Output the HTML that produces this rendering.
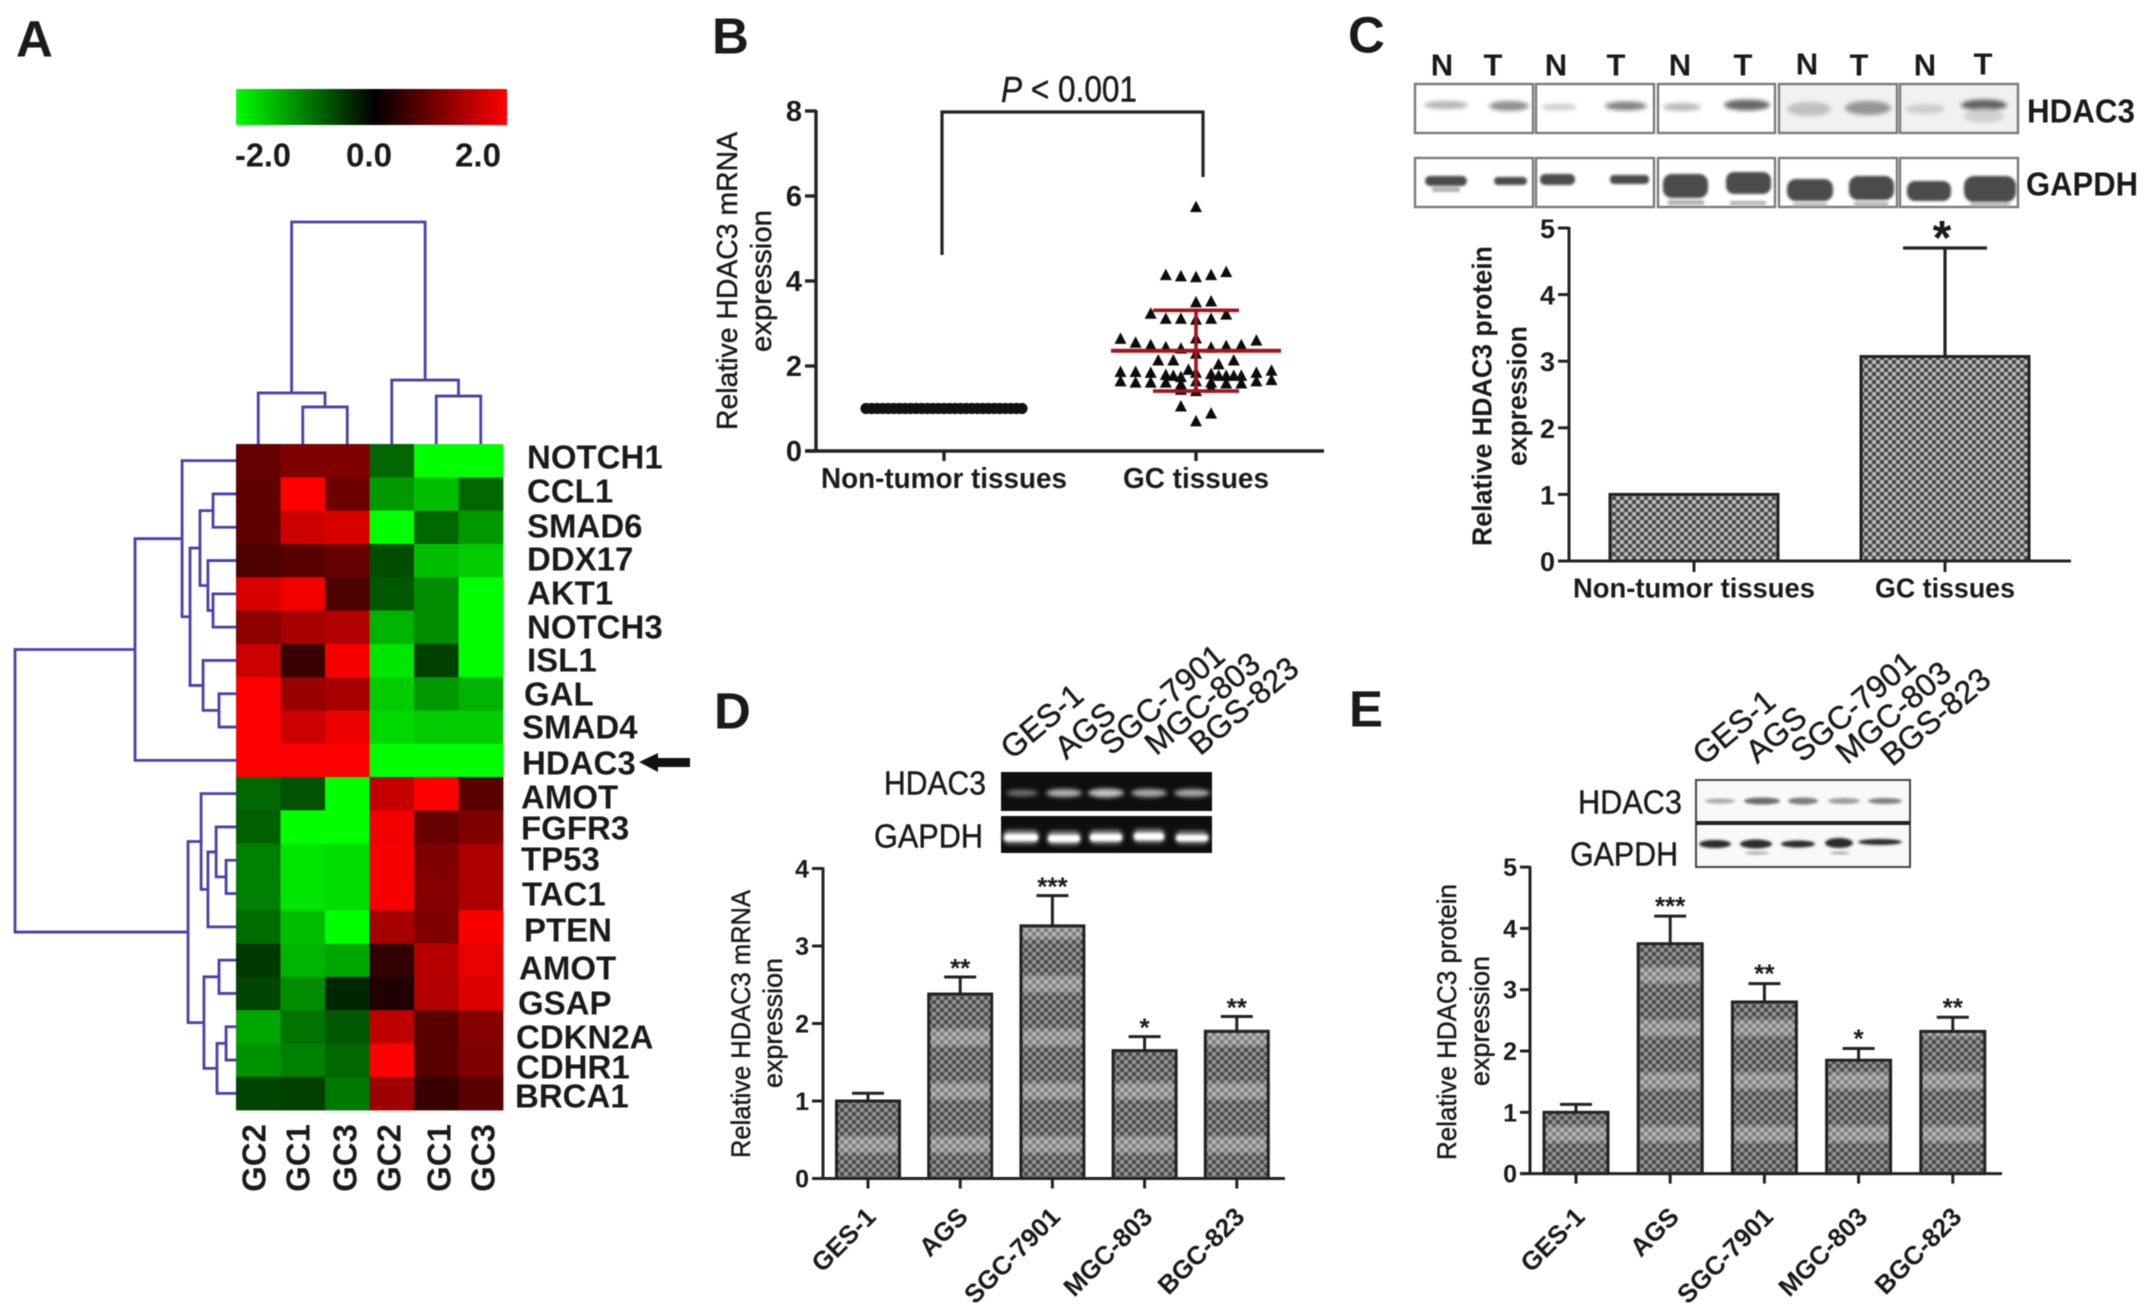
<!DOCTYPE html>
<html lang="en">
<head>
<meta charset="utf-8">
<title>HDAC3 expression in gastric cancer</title>
<style>
html,body{margin:0;padding:0;background:#fff;width:2150px;height:1305px;overflow:hidden}
svg{display:block;filter:blur(.6px)}
text{font-family:"Liberation Sans",sans-serif;fill:#1a1a1a;dominant-baseline:central}
text:not(.b):not([font-weight]){stroke:#1a1a1a;stroke-width:.45px}
.b{font-weight:bold}
.m{text-anchor:middle}
.s{text-anchor:start}
</style>
</head>
<body>
<svg id="figure" xmlns="http://www.w3.org/2000/svg" width="2150" height="1305" viewBox="0 0 2150 1305">
<defs>
  <linearGradient id="cbar" x1="0" x2="1" y1="0" y2="0">
    <stop offset="0" stop-color="#00ff00"/><stop offset=".51" stop-color="#000"/><stop offset="1" stop-color="#ff0000"/>
  </linearGradient>
  <linearGradient id="bandFade" x1="0" x2="0" y1="0" y2="1">
    <stop offset="0" stop-color="#fff" stop-opacity="0"/><stop offset=".25" stop-color="#fff" stop-opacity=".3"/>
    <stop offset=".75" stop-color="#fff" stop-opacity=".3"/><stop offset="1" stop-color="#fff" stop-opacity="0"/>
  </linearGradient>
  <pattern id="dots" patternUnits="userSpaceOnUse" width="8" height="8">
    <rect width="8" height="8" fill="#7b7b7b"/>
    <circle cx="2" cy="2" r="1.6" fill="#cfcfcf"/><circle cx="6" cy="6" r="1.6" fill="#cfcfcf"/>
    <circle cx="6" cy="2" r="1.6" fill="#3c3c3c"/><circle cx="2" cy="6" r="1.6" fill="#3c3c3c"/>
  </pattern>
  <pattern id="dotsDark" patternUnits="userSpaceOnUse" width="8" height="8">
    <rect width="8" height="8" fill="#6e6e6e"/>
    <circle cx="2" cy="2" r="1.5" fill="#a4a4a4"/><circle cx="6" cy="6" r="1.5" fill="#a4a4a4"/>
    <circle cx="6" cy="2" r="1.5" fill="#3e3e3e"/><circle cx="2" cy="6" r="1.5" fill="#3e3e3e"/>
  </pattern>
  <pattern id="bandsD" patternUnits="userSpaceOnUse" x="0" y="1080" width="10" height="53.5">
    <rect width="10" height="22" fill="url(#bandFade)"/>
  </pattern>
  <pattern id="bandsE" patternUnits="userSpaceOnUse" x="0" y="1070" width="10" height="53">
    <rect width="10" height="22" fill="url(#bandFade)"/>
  </pattern>
  <filter id="soft" x="-30%" y="-80%" width="160%" height="260%"><feGaussianBlur stdDeviation="2"/></filter>
  <filter id="soft1" x="-20%" y="-40%" width="140%" height="180%"><feGaussianBlur stdDeviation="1.4"/></filter>
</defs>

<!-- Panel letters -->
<text class="b s" x="16" y="39" font-size="51">A</text>
<text class="b s" x="712" y="36" font-size="51">B</text>
<text class="b s" x="1348" y="35" font-size="51">C</text>
<text class="b s" x="714" y="711" font-size="51">D</text>
<text class="b s" x="1349" y="709" font-size="51">E</text>

<!-- Panel A static -->
<g id="panelA">
  <g>
    <rect x="236" y="89" width="271" height="36" fill="url(#cbar)"/>
    <text class="b s" x="235" y="155" font-size="33" textLength="56" lengthAdjust="spacingAndGlyphs">-2.0</text>
    <text class="b s" x="346" y="155" font-size="33" textLength="46" lengthAdjust="spacingAndGlyphs">0.0</text>
    <text class="b s" x="455" y="155" font-size="33" textLength="46" lengthAdjust="spacingAndGlyphs">2.0</text>
  </g>
  <g id="heatCells"></g>
  <g id="colTree" fill="none" stroke="#4840ae" stroke-width="2.8"></g>
  <g id="rowTree" fill="none" stroke="#4840ae" stroke-width="2.8"></g>
  <g font-size="33">
    <text class="b s" x="527" y="457">NOTCH1</text>
    <text class="b s" x="527" y="491">CCL1</text>
    <text class="b s" x="527" y="526">SMAD6</text>
    <text class="b s" x="527" y="559">DDX17</text>
    <text class="b s" x="527" y="593">AKT1</text>
    <text class="b s" x="527" y="627">NOTCH3</text>
    <text class="b s" x="527" y="660">ISL1</text>
    <text class="b s" x="524" y="694">GAL</text>
    <text class="b s" x="522" y="727">SMAD4</text>
    <text class="b s" x="522" y="763">HDAC3</text>
    <text class="b s" x="521" y="797">AMOT</text>
    <text class="b s" x="521" y="828">FGFR3</text>
    <text class="b s" x="521" y="859">TP53</text>
    <text class="b s" x="522" y="894">TAC1</text>
    <text class="b s" x="524" y="930">PTEN</text>
    <text class="b s" x="519" y="968">AMOT</text>
    <text class="b s" x="518" y="1003">GSAP</text>
    <text class="b s" x="516" y="1037">CDKN2A</text>
    <text class="b s" x="516" y="1067">CDHR1</text>
    <text class="b s" x="515" y="1096">BRCA1</text>
  </g>
  <g>
    <polygon points="639,762 658,753 658,758 690,758 690,767 658,767 658,772" fill="#111"/>
  </g>
  <g font-size="33">
    <text class="b m" transform="translate(254 1158) rotate(-90)">GC2</text>
    <text class="b m" transform="translate(298 1158) rotate(-90)">GC1</text>
    <text class="b m" transform="translate(345 1158) rotate(-90)">GC3</text>
    <text class="b m" transform="translate(389 1158) rotate(-90)">GC2</text>
    <text class="b m" transform="translate(439 1158) rotate(-90)">GC1</text>
    <text class="b m" transform="translate(483 1158) rotate(-90)">GC3</text>
  </g>
</g>

<!-- Panel B static -->
<g id="panelB">
  <text class="m" transform="translate(728 281) rotate(-90)" font-size="29" textLength="298" lengthAdjust="spacingAndGlyphs">Relative HDAC3 mRNA</text>
  <text class="m" transform="translate(762 281) rotate(-90)" font-size="29" textLength="142" lengthAdjust="spacingAndGlyphs">expression</text>
  <path d="M942 255V112H1203V177" fill="none" stroke="#222" stroke-width="3.2"/>
  <text class="s" x="1001" y="89" font-size="36" textLength="136" lengthAdjust="spacingAndGlyphs"><tspan font-style="italic">P</tspan> &lt; 0.001</text>
</g>

<!-- Panel C blots -->
<g id="panelC">
  <g font-size="31" class="b">
    <text class="b m" x="1442" y="65">N</text>
    <text class="b m" x="1493" y="65">T</text>
    <text class="b m" x="1556" y="65">N</text>
    <text class="b m" x="1616" y="65">T</text>
    <text class="b m" x="1680" y="65">N</text>
    <text class="b m" x="1743" y="65">T</text>
    <text class="b m" x="1807" y="64">N</text>
    <text class="b m" x="1859" y="65">T</text>
    <text class="b m" x="1925" y="65">N</text>
    <text class="b m" x="1983" y="64">T</text>
  </g>
  <g>
    <g fill="#fff" stroke="#7a7a7a" stroke-width="2.4">
      <rect x="1415" y="84" width="118" height="49"/>
      <rect x="1536" y="84" width="118" height="49"/>
      <rect x="1658" y="84" width="117" height="49"/>
      <rect x="1779" y="84" width="118" height="49" fill="#f1f1f1"/>
      <rect x="1900" y="84" width="118" height="49" fill="#f1f1f1"/>
    </g>
    <g filter="url(#soft)">
      <ellipse cx="1446" cy="105" rx="22" ry="4" fill="#b4b4b4"/><ellipse cx="1509" cy="106" rx="20" ry="5" fill="#8e8e8e"/>
      <ellipse cx="1559" cy="107" rx="18" ry="3" fill="#c8c8c8"/><ellipse cx="1626" cy="106" rx="21" ry="4.5" fill="#808080"/>
      <ellipse cx="1682" cy="107" rx="19" ry="4" fill="#b8b8b8"/><ellipse cx="1747" cy="105" rx="23" ry="5.5" fill="#666"/>
      <ellipse cx="1809" cy="109" rx="22" ry="7" fill="#c0c0c0"/><ellipse cx="1868" cy="108" rx="23" ry="7" fill="#959595"/>
      <ellipse cx="1925" cy="109" rx="20" ry="5" fill="#cdcdcd"/><ellipse cx="1984" cy="105" rx="23" ry="5.5" fill="#626262"/>
      <ellipse cx="1984" cy="116" rx="20" ry="7" fill="#d2d2d2"/>
    </g>
  </g>
  <g>
    <g fill="#fff" stroke="#7a7a7a" stroke-width="2.4">
      <rect x="1415" y="158" width="118" height="49"/>
      <rect x="1536" y="158" width="118" height="49"/>
      <rect x="1658" y="158" width="117" height="49"/>
      <rect x="1779" y="158" width="118" height="49"/>
      <rect x="1900" y="158" width="118" height="49"/>
    </g>
    <g filter="url(#soft1)" fill="#4c4c4c">
      <rect x="1425" y="176" width="42" height="10" rx="5"/><rect x="1494" y="177" width="33" height="8" rx="4"/>
      <rect x="1540" y="174" width="35" height="11" rx="5"/><rect x="1610" y="175" width="39" height="9" rx="4"/>
      <rect x="1663" y="174" width="45" height="24" rx="9"/><rect x="1726" y="172" width="45" height="22" rx="8"/>
      <rect x="1787" y="179" width="46" height="22" rx="9"/><rect x="1849" y="176" width="45" height="24" rx="9"/>
      <rect x="1907" y="181" width="44" height="20" rx="8"/><rect x="1964" y="176" width="52" height="26" rx="10"/>
      <g fill="#b0b0b0">
        <rect x="1432" y="187" width="28" height="5" rx="2"/>
        <rect x="1668" y="200" width="36" height="5"/><rect x="1730" y="201" width="36" height="4"/>
        <rect x="1793" y="203" width="34" height="3"/><rect x="1854" y="202" width="34" height="4"/>
        <rect x="1970" y="203" width="40" height="3"/>
      </g>
    </g>
  </g>
  <text class="b s" x="2027" y="111" font-size="33" textLength="108" lengthAdjust="spacingAndGlyphs">HDAC3</text>
  <text class="b s" x="2026" y="184" font-size="33" textLength="112" lengthAdjust="spacingAndGlyphs">GAPDH</text>
  <text class="b m" transform="translate(1482 396) rotate(-90)" font-size="28" textLength="300" lengthAdjust="spacingAndGlyphs">Relative HDAC3 protein</text>
  <text class="b m" transform="translate(1517 396) rotate(-90)" font-size="28" textLength="140" lengthAdjust="spacingAndGlyphs">expression</text>
</g>

<!-- Panel D static -->
<g id="panelD">
  <g font-size="32">
    <text class="s" transform="translate(1005 752) rotate(-40)">GES-1</text>
    <text class="s" transform="translate(1059 752) rotate(-40)">AGS</text>
    <text class="s" transform="translate(1104 748) rotate(-40)">SGC-7901</text>
    <text class="s" transform="translate(1149 748) rotate(-40)">MGC-803</text>
    <text class="s" transform="translate(1193 748) rotate(-40)">BGS-823</text>
  </g>
  <text class="s" x="884" y="783" font-size="33" textLength="102" lengthAdjust="spacingAndGlyphs">HDAC3</text>
  <text class="s" x="874" y="836" font-size="33" textLength="109" lengthAdjust="spacingAndGlyphs">GAPDH</text>
  <rect x="1001" y="772" width="211" height="39" fill="#0e0e0e"/>
  <rect x="1001" y="816" width="211" height="37" fill="#0e0e0e"/>
  <g filter="url(#soft)">
    <ellipse cx="1022" cy="793" rx="16" ry="3.5" fill="#6e6e6e"/><ellipse cx="1064" cy="793" rx="18" ry="4" fill="#b4b4b4"/>
    <ellipse cx="1106" cy="793" rx="18" ry="4.5" fill="#c4c4c4"/><ellipse cx="1149" cy="793" rx="18" ry="4" fill="#ababab"/>
    <ellipse cx="1192" cy="793" rx="18" ry="4" fill="#a8a8a8"/>
  </g>
  <g filter="url(#soft)" fill="#8c8c8c">
    <rect x="1003" y="830" width="36" height="14" rx="6"/><rect x="1047" y="831" width="34" height="14" rx="6"/>
    <rect x="1089" y="830" width="34" height="14" rx="6"/><rect x="1133" y="829" width="32" height="14" rx="6"/>
    <rect x="1175" y="831" width="34" height="13" rx="6"/>
  </g>
  <g filter="url(#soft1)" fill="#fff">
    <rect x="1004" y="834" width="34" height="7" rx="3.5"/><rect x="1048" y="835" width="32" height="7" rx="3.5"/>
    <rect x="1090" y="834" width="32" height="7" rx="3.5"/><rect x="1134" y="833" width="30" height="7" rx="3.5"/>
    <rect x="1176" y="835" width="32" height="6" rx="3"/>
  </g>
  <text class="m" transform="translate(741 1024) rotate(-90)" font-size="27" textLength="268" lengthAdjust="spacingAndGlyphs">Relative HDAC3 mRNA</text>
  <text class="m" transform="translate(773 1023) rotate(-90)" font-size="27" textLength="130" lengthAdjust="spacingAndGlyphs">expression</text>
</g>

<!-- Panel E static -->
<g id="panelE">
  <g font-size="32">
    <text class="s" transform="translate(1697 758) rotate(-40)">GES-1</text>
    <text class="s" transform="translate(1750 756) rotate(-40)">AGS</text>
    <text class="s" transform="translate(1795 755) rotate(-40)">SGC-7901</text>
    <text class="s" transform="translate(1840 757) rotate(-40)">MGC-803</text>
    <text class="s" transform="translate(1885 759) rotate(-40)">BGS-823</text>
  </g>
  <text class="s" x="1578" y="802" font-size="33" textLength="104" lengthAdjust="spacingAndGlyphs">HDAC3</text>
  <text class="s" x="1570" y="854" font-size="33" textLength="108" lengthAdjust="spacingAndGlyphs">GAPDH</text>
  <rect x="1696" y="780" width="214" height="87" fill="#f9f9f9" stroke="#444" stroke-width="2"/>
  <line x1="1696" x2="1910" y1="823" y2="823" stroke="#222" stroke-width="4"/>
  <g filter="url(#soft1)">
    <ellipse cx="1720" cy="801" rx="15" ry="2.6" fill="#aaa"/><ellipse cx="1762" cy="801" rx="18" ry="3.5" fill="#6c6c6c"/>
    <ellipse cx="1803" cy="801" rx="15" ry="3.5" fill="#7c7c7c"/><ellipse cx="1844" cy="801" rx="16" ry="3" fill="#9c9c9c"/>
    <ellipse cx="1885" cy="801" rx="17" ry="3" fill="#808080"/>
  </g>
  <g filter="url(#soft1)" fill="#2a2a2a">
    <ellipse cx="1715" cy="844" rx="16" ry="4"/><ellipse cx="1756" cy="844" rx="16" ry="4.5"/>
    <ellipse cx="1798" cy="844" rx="17" ry="3.5"/><ellipse cx="1839" cy="843" rx="14" ry="5"/>
    <ellipse cx="1880" cy="842" rx="22" ry="3"/>
    <ellipse cx="1757" cy="853" rx="12" ry="1.5" fill="#aaa"/><ellipse cx="1840" cy="853" rx="10" ry="1.5" fill="#aaa"/>
  </g>
  <text class="m" transform="translate(1447 1022) rotate(-90)" font-size="27" textLength="276" lengthAdjust="spacingAndGlyphs">Relative HDAC3 protein</text>
  <text class="m" transform="translate(1480 1021) rotate(-90)" font-size="27" textLength="130" lengthAdjust="spacingAndGlyphs">expression</text>
</g>
</svg>

<script>
/* ---------- Panel A data ---------- */
const heatGenes = ['NOTCH1','CCL1','SMAD6','DDX17','AKT1','NOTCH3','ISL1','GAL','SMAD4','HDAC3','AMOT','FGFR3','TP53','TAC1','PTEN','AMOT','GSAP','CDKN2A','CDHR1','BRCA1'];
const heatSamples = ['GC2','GC1','GC3','GC2','GC1','GC3'];
const heatValues = [
  [0.8,1.0,1.0,-0.8,-2,-2],
  [0.75,2,0.85,-1.2,-1.5,-0.8],
  [0.75,1.6,1.7,-2,-0.8,-1.2],
  [0.6,0.7,0.8,-0.6,-1.5,-1.6],
  [1.7,1.9,0.6,-0.7,-1.1,-2],
  [1.1,1.3,1.4,-1.4,-1.1,-2],
  [1.6,0.45,1.95,-1.8,-0.5,-2],
  [2,1.2,1.3,-1.6,-1.2,-1.4],
  [2,1.6,1.85,-1.7,-1.6,-1.6],
  [2,2,2,-2,-2,-2],
  [-0.8,-0.65,-2,1.55,2,0.7],
  [-0.75,-2,-2,1.9,0.8,1.0],
  [-1,-1.8,-1.75,1.95,1.0,1.35],
  [-1,-1.8,-1.75,1.95,1.05,1.35],
  [-0.85,-1.5,-2,1.3,1.0,1.95],
  [-0.45,-1.4,-1.3,0.4,1.45,1.8],
  [-0.55,-1.1,-0.3,0.25,1.4,1.75],
  [-1.3,-0.9,-0.7,1.5,0.7,1.05],
  [-1.15,-1,-0.8,2,0.7,1.0],
  [-0.55,-0.5,-0.95,1.25,0.45,0.7]
];
/* trees: [linkage distance, left child, right child]; leaves are row / column indices */
const rowTreeData = [1.0,
  [0.457,
    [0.244,0,[0.208,[0.163,[0.104,1,2],[0.127,3,[0.104,4,5]]],[0.149,6,[0.077,7,8]]]],
    9],
  [0.217,
    [0.158,10,[0.127,[0.09,11,[0.045,12,13]],14]],
    [0.145,[0.077,15,16],[0.086,[0.045,17,18],19]]]
];
const colTreeData = [1.0,[0.23,0,[0.167,1,2]],[0.288,3,[0.216,4,5]]];

/* ---------- Panel B data ---------- */
const scatterTicks = [0,2,4,6,8];
const scatterCategories = ['Non-tumor tissues','GC tissues'];
const nonTumorValues = [1,1,1,1,1,1,1,1,1,1,1,1,1,1,1,1,1,1,1,1,1,1,1,1,1,1,1,1,1];
const gcMean = 2.36;
const gcSD = 0.95;
const gcRow1 = [null,null,null,null,null,5.75,null,null,null,null,null];
const gcRow2 = [null,null,null,4.15,4.12,4.1,4.15,4.22,null,null,null];
const gcRow3 = [null,null,null,null,null,3.51,3.53,null,null,null,null];
const gcRow4 = [null,null,3.24,3.12,3.12,3.1,3.12,3.22,null,null,null];
const gcRow5 = [2.65,2.56,2.5,2.45,2.42,2.66,2.44,2.48,2.5,2.61,null];
const gcRow6 = [null,null,null,null,null,2.3,null,null,null,null,null];
const gcRow7 = [1.87,1.87,1.85,1.8,1.75,1.85,1.82,1.78,1.78,1.85,1.9];
const gcRow8 = [1.65,1.62,1.62,1.62,1.58,1.65,1.62,1.6,1.6,1.65,1.68];
const gcRow9 = [null,null,null,null,1.45,1.42,1.5,null,null,null,null];
const gcRow10 = [null,null,null,null,1.06,0.71,0.89,null,null,null,null];
const gcRows = [gcRow1,gcRow2,gcRow3,gcRow4,gcRow5,gcRow6,gcRow7,gcRow8,gcRow9,gcRow10];
const gcOffsetRow1 = [null,null,2.14,2.14,null,null,2.05,2.14,null,null,null];
const gcOffsetRow2 = [null,null,null,1.78,1.92,null,1.78,1.78,null,null,null];
const gcOffsetRows = [gcOffsetRow1,gcOffsetRow2];

/* ---------- Panel C data ---------- */
const tissueCategories = ['Non-tumor tissues','GC tissues'];
const tissueProtein = [1.0,3.07];
const tissueProteinTop = [null,4.7];
const tissueStars = ['','*'];
const tissueTicks = [0,1,2,3,4,5];

/* ---------- Panel D data ---------- */
const cellLines = ['GES-1','AGS','SGC-7901','MGC-803','BGC-823'];
const mrnaValues = [1.0,2.38,3.26,1.65,1.9];
const mrnaTop = [1.1,2.6,3.65,1.83,2.09];
const mrnaStars = ['','**','***','*','**'];
const mrnaTicks = [0,1,2,3,4];

/* ---------- Panel E data ---------- */
const proteinValues = [1.0,3.75,2.8,1.85,2.32];
const proteinTop = [1.13,4.2,3.1,2.04,2.55];
const proteinStars = ['','***','**','*','**'];
const proteinTicks = [0,1,2,3,4,5];

const NS = 'http://www.w3.org/2000/svg';
function mk(tag, attrs, parent) {
  const e = document.createElementNS(NS, tag);
  for (const k in attrs) e.setAttribute(k, attrs[k]);
  parent.appendChild(e);
  return e;
}
const slug = s => String(s).toLowerCase().replace(/[^a-z0-9]+/g, '-');

/* ---------- Heatmap ---------- */
const heatLeft = 236, heatTop = 444, cellW = 44.5, cellH = 33.3;
const colX = i => heatLeft + i * cellW;
const rowY = i => heatTop + i * cellH;
const colMid = i => colX(i) + cellW / 2;
const rowMid = i => rowY(i) + cellH / 2;
const rowDist = d => heatLeft - d * 221;
const colDist = d => heatTop - d * 222;
function heatColor(v) {
  const t = Math.min(1, Math.abs(v) / 2);
  const c = Math.round(t * 255);
  return v >= 0 ? `rgb(${c},0,0)` : `rgb(0,${c},0)`;
}
const heatG = document.getElementById('heatCells');
heatValues.forEach((row, r) => row.forEach((v, c) => {
  const cell = mk('rect', {x: colX(c), y: rowY(r), width: cellW + .4, height: cellH + .4, fill: heatColor(v)}, heatG);
  
  
}));
function drawRowTree(node, g) {
  if (typeof node === 'number') return {x: heatLeft, y: rowMid(node)};
  const a = drawRowTree(node[1], g), b = drawRowTree(node[2], g), x = rowDist(node[0]);
  const link = mk('path', {d: `M${a.x} ${a.y}H${x}V${b.y}H${b.x}`}, g);
  
  
  return {x, y: (a.y + b.y) / 2};
}
function drawColTree(node, g) {
  if (typeof node === 'number') return {x: colMid(node), y: heatTop};
  const a = drawColTree(node[1], g), b = drawColTree(node[2], g), y = colDist(node[0]);
  const link = mk('path', {d: `M${a.x} ${a.y}V${y}H${b.x}V${b.y}`}, g);
  
  
  return {x: (a.x + b.x) / 2, y};
}
drawRowTree(rowTreeData, document.getElementById('rowTree'));
drawColTree(colTreeData, document.getElementById('colTree'));

/* ---------- Shared axes ---------- */
function drawAxes(g, o, ticks, cats, xPos, prefix) {
  const y = o.y;
  const yAxis = mk('line', {x1: o.axisX, x2: o.axisX, y1: y(ticks[ticks.length - 1]) - 1, y2: y(0), stroke: '#222', 'stroke-width': o.sw}, g);
  
  
  const xAxis = mk('line', {x1: o.tickLeft, x2: o.axisEnd, y1: y(0), y2: y(0), stroke: '#222', 'stroke-width': o.sw}, g);
  
  
  ticks.forEach(t => {
    const tk = mk('line', {x1: o.tickLeft, x2: o.axisX, y1: y(t), y2: y(t), stroke: '#222', 'stroke-width': o.sw}, g);
    
    
    const lb = mk('text', {x: o.tickLeft - 3, y: y(t) + 1, 'text-anchor': 'end', 'font-size': o.tickFont, 'font-weight': 'bold'}, g);
    lb.textContent = t;
    
    
  });
  cats.forEach((c, i) => {
    const tk = mk('line', {x1: xPos(i), x2: xPos(i), y1: y(0), y2: y(0) + o.tickDown, stroke: '#222', 'stroke-width': o.sw}, g);
    
    
  });
}
function drawStraightLabels(g, cats, xPos, yPos, size, lengths, prefix) {
  cats.forEach((c, i) => {
    const lb = mk('text', {x: xPos(i), y: yPos, 'text-anchor': 'middle', 'font-size': size, 'font-weight': 'bold', textLength: lengths[i], lengthAdjust: 'spacingAndGlyphs'}, g);
    lb.textContent = c;
    
    
  });
}

/* ---------- Panel B: swarm ---------- */
const gB = document.getElementById('panelB');
const yB = v => 451 - v * 42.5;
const xB = i => [944, 1196][i];
const slotX = s => xB(1) + (s - 5) * 15.1;
drawAxes(gB, {y: yB, axisX: 816, axisEnd: 1324, tickLeft: 805, tickDown: 10, sw: 3.4, tickFont: 29}, scatterTicks, scatterCategories, xB, 'scatter');
drawStraightLabels(gB, scatterCategories, xB, 479, 29, [246, 146], 'scatter');
nonTumorValues.forEach((v, i) => {
  const px = xB(0) + (i - (nonTumorValues.length - 1) / 2) * 5.57;
  const pt = mk('circle', {cx: px, cy: yB(v), r: 5.6, fill: '#111'}, gB);
  
  
});
function triangle(px, v) {
  const py = yB(v);
  const pt = mk('polygon', {points: `${px - 6},${py + 5.5} ${px},${py - 6} ${px + 6},${py + 5.5}`, fill: '#0c0c0c'}, gB);
  
  
}
gcRows.forEach(row => row.forEach((v, s) => { if (v !== null) triangle(slotX(s), v); }));
gcOffsetRows.forEach(row => row.forEach((v, s) => { if (v !== null) triangle(slotX(s + .5), v); }));
const meanLine = mk('line', {x1: xB(1) - 85, x2: xB(1) + 85, y1: yB(gcMean), y2: yB(gcMean), stroke: '#a5131f', 'stroke-width': 4}, gB);


const sdUp = mk('line', {x1: xB(1) - 43, x2: xB(1) + 43, y1: yB(gcMean + gcSD), y2: yB(gcMean + gcSD), stroke: '#a5131f', 'stroke-width': 3.6}, gB);


const sdLo = mk('line', {x1: xB(1) - 43, x2: xB(1) + 43, y1: yB(gcMean - gcSD), y2: yB(gcMean - gcSD), stroke: '#a5131f', 'stroke-width': 3.6}, gB);


const sdStem = mk('line', {x1: xB(1), x2: xB(1), y1: yB(gcMean + gcSD), y2: yB(gcMean - gcSD), stroke: '#a5131f', 'stroke-width': 3.6}, gB);



/* ---------- Bars ---------- */
function drawBars(g, o, cats, values, tops, stars, xPos, prefix) {
  const y = o.y;
  values.forEach((v, i) => {
    const cx = xPos(i), x = cx - o.barW / 2;
    if (tops[i] !== null) {
      const stem = mk('path', {d: `M${cx} ${y(v)}V${y(tops[i])}M${cx - o.capW} ${y(tops[i])}H${cx + o.capW}`, fill: 'none', stroke: '#222', 'stroke-width': o.errSw}, g);
      
      
    }
    const bar = mk('rect', {x, y: y(v), width: o.barW, height: y(0) - y(v), fill: o.fill, stroke: '#222', 'stroke-width': o.barSw}, g);
    
    
    if (o.band) {
      const band = mk('rect', {x: x + 2, y: y(v) + 2, width: o.barW - 4, height: y(0) - y(v) - 4, fill: o.band}, g);
      
      
    }
    if (stars[i]) {
      const st = mk('text', {x: cx + (o.starDx || 0), y: y(tops[i]) + o.starGap, 'text-anchor': 'middle', 'font-size': o.starFont, 'font-weight': 'bold', style: 'dominant-baseline:alphabetic'}, g);
      st.textContent = stars[i];
      
      
    }
  });
}
function drawRotatedLabels(g, cats, xPos, yEnd, dx, size, prefix) {
  cats.forEach((c, i) => {
    const lb = mk('text', {transform: `translate(${xPos(i) + dx} ${yEnd}) rotate(-45)`, 'text-anchor': 'end', 'font-size': size, 'font-weight': 'bold'}, g);
    lb.textContent = c;
    
    
  });
}

/* Panel C */
const gC = document.getElementById('panelC');
const yC = v => 561 - v * 66.6;
const xC = i => 1694 + i * 251;
drawBars(gC, {y: yC, barW: 168, capW: 42, errSw: 3.2, barSw: 3, fill: 'url(#dots)', starGap: 6, starFont: 48, starDx: -3}, tissueCategories, tissueProtein, tissueProteinTop, tissueStars, xC, 'tissue');
drawAxes(gC, {y: yC, axisX: 1569, axisEnd: 2071, tickLeft: 1558, tickDown: 11, sw: 3, tickFont: 27}, tissueTicks, tissueCategories, xC, 'tissue');
drawStraightLabels(gC, tissueCategories, xC, 588, 28, [242, 140], 'tissue');

/* Panel D */
const gD = document.getElementById('panelD');
const yD = v => 1178.5 - v * 77.5;
const xD = i => 868 + i * 92.2;
drawBars(gD, {y: yD, barW: 63, capW: 16, errSw: 3, barSw: 3, fill: 'url(#dotsDark)', band: 'url(#bandsD)', starGap: 0, starFont: 26}, cellLines, mrnaValues, mrnaTop, mrnaStars, xD, 'mrna');
drawAxes(gD, {y: yD, axisX: 823, axisEnd: 1285, tickLeft: 812, tickDown: 10, sw: 3, tickFont: 25}, mrnaTicks, cellLines, xD, 'mrna');
drawRotatedLabels(gD, cellLines, xD, 1212, 3, 26, 'mrna');

/* Panel E */
const gE = document.getElementById('panelE');
const yE = v => 1173.6 - v * 61.3;
const xE = i => 1576 + i * 94.2;
drawBars(gE, {y: yE, barW: 64, capW: 16, errSw: 3, barSw: 3, fill: 'url(#dotsDark)', band: 'url(#bandsE)', starGap: -1, starFont: 26}, cellLines, proteinValues, proteinTop, proteinStars, xE, 'protein');
drawAxes(gE, {y: yE, axisX: 1530, axisEnd: 2002, tickLeft: 1520, tickDown: 10, sw: 3, tickFont: 25}, proteinTicks, cellLines, xE, 'protein');
drawRotatedLabels(gE, cellLines, xE, 1212, 4, 26, 'protein');
</script>
</body>
</html>
